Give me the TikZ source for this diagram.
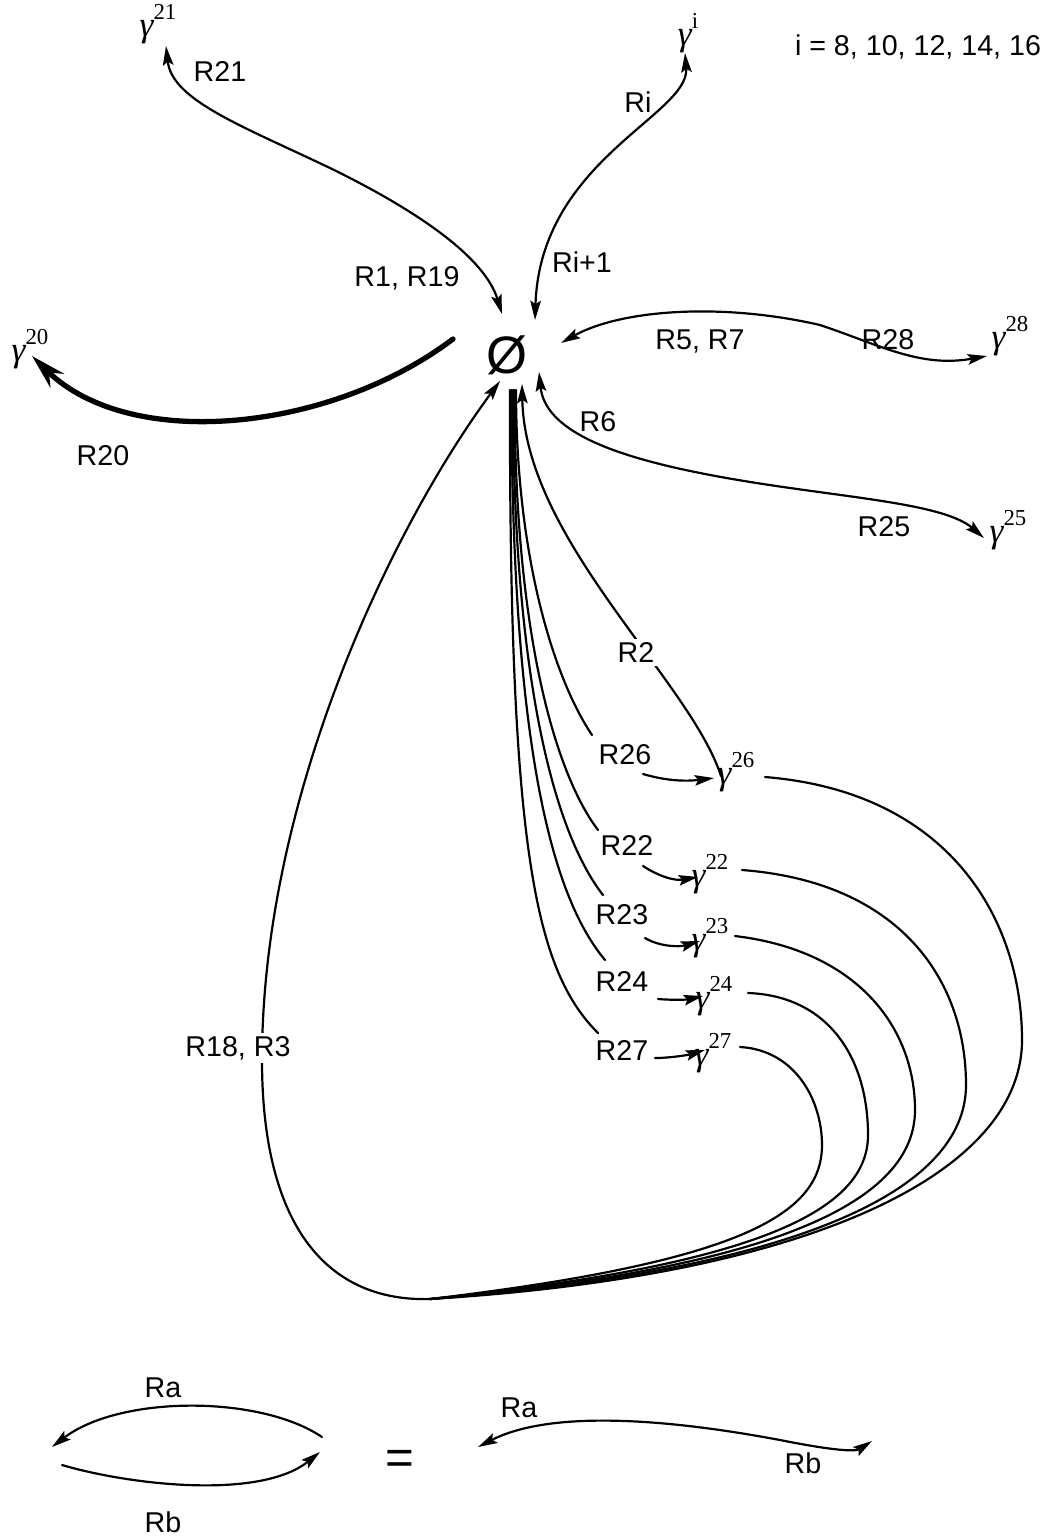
\documentclass[tikz,border=0pt]{standalone}
\usepackage{fontspec}
\setmainfont{Liberation Sans}
\newfontfamily\grfont{Liberation Serif}
\usetikzlibrary{arrows.meta}
\newcommand{\gm}[1]{{\grfont\fontsize{20}{20}\selectfont\itshape γ\upshape\raisebox{1.05ex}{\fontsize{13}{13}\selectfont #1}}}
\begin{document}
\begin{tikzpicture}[x=0.02cm,y=-0.02cm,font=\fontsize{16.3}{19}\selectfont, line join=round, line cap=round, line width=1.25pt, >={Stealth[length=11pt,width=6pt,inset=2pt]},
		thick arrow/.style={line width=3pt,-{Stealth[length=20pt,width=11pt]}},
		gap/.style={fill=white,inner sep=2pt}]
				\useasboundingbox (0,0) rectangle (1054,1536);
				% Nut trung tam va cac gamma
				\node (phi) at (507,355) {\fontsize{30}{30}\selectfont Ø};
				\node (g21) at (158,24) {\gm{21}};
				\node (gi) at (688,33) {\gm{i}};
				\node (g28) at (1010,336) {\gm{28}};
				\node (g25) at (1008,530) {\gm{25}};
				\node (g20) at (30,349) {\gm{20}};
				\node (g26) at (736,772) {\gm{26}};
				\node (g22) at (710,874) {\gm{22}};
				\node (g23) at (710,938) {\gm{23}};
				\node (g24) at (714,996) {\gm{24}};
				\node (g27) at (713,1053) {\gm{27}};
				\node (idx) at (918,47) {i = 8, 10, 12, 14, 16};
				% Diem dau mui ten
				\coordinate (t21) at (166,46);
				\coordinate (p1) at (502,314);
				\coordinate (ti) at (685,53);
				\coordinate (pi) at (535,320);
				\coordinate (t28) at (987,356);
				\coordinate (p5) at (561,343);
				\coordinate (p6) at (539,372);
				\coordinate (t25) at (984,538);
				\coordinate (p20) at (453,339);
				\coordinate (t20) at (32,356);
				\coordinate (p2) at (522,384);
				\coordinate (p18) at (500,381);
				\coordinate (J) at (430,1299);
				% R21 / R1, R19
				\draw[<->] (t21) .. controls (172,100) and (240,125) .. (330,168) .. controls (420,212) and (485,258) .. (p1);
				\node (r21) at (220,71) {R21};
				\node (r1) at (407,278) {R1, R19};
				% Ri / Ri+1
				\draw[<->] (ti) .. controls (690,115) and (540,160) .. (pi);
				\node (ri) at (638,102) {Ri};
				\node (ri1) at (582,262) {Ri+1};
				% R5, R7 / R28
				\draw[<->] (t28) .. controls (920,368) and (880,345) .. (820,325) .. controls (720,302) and (620,310) .. (p5);
				\node (r5) at (700,341) {R5, R7};
				\node (r28) at (888,340) {R28};
				% R6 / R25
				\draw[<->] (p6) .. controls (545,430) and (610,455) .. (700,473) .. controls (820,497) and (940,500) .. (t25);
				\node (r6) at (598,422) {R6};
				\node (r25) at (884,527) {R25};
				% R20
				\draw[thick arrow] (p20) .. controls (330,432) and (130,452) .. (t20);
				\node (r20) at (103,456) {R20};
				% R2
				\draw[<-] (p2) .. controls (525,540) and (690,680) .. (721,776);
				\node[gap] (r2) at (636,652) {R2};
				% bo duong tu nut xuong
				\node (r26) at (625,755) {R26};
				\node (r22) at (627,845) {R22};
				\node (r23) at (622,915) {R23};
				\node (r24) at (622,981) {R24};
				\node (r27) at (622,1050) {R27};
				\draw (510,390) .. controls (509,850) and (535,970) .. (598,1033);
				\draw (511.5,390) .. controls (511.5,760) and (555,900) .. (605,960);
				\draw (513,390) .. controls (513,700) and (560,840) .. (603,895);
				\draw (514.5,390) .. controls (514.5,650) and (560,780) .. (598,830);
				\draw (516,390) .. controls (516,560) and (555,680) .. (592,735);
				\draw[->] (643,774) .. controls (670,782) and (690,781) .. (714,778);
				\draw[->] (643,866) .. controls (660,877) and (675,881) .. (698,877);
				\draw[->] (645,938) .. controls (660,947) and (680,947) .. (700,941);
				\draw[->] (658,999) .. controls (670,1000) and (685,1000) .. (703,996);
				\draw[->] (655,1058) .. controls (670,1058) and (688,1055) .. (705,1050);
				% cung lon ve R18, R3
				\draw (765,777) .. controls (950,792) and (1022,920) .. (1022,1040) .. controls (1022,1170) and (820,1275) .. (J);
				\draw (742,870) .. controls (900,882) and (966,980) .. (966,1085) .. controls (966,1190) and (800,1270) .. (J);
				\draw (735,936) .. controls (860,951) and (915,1030) .. (915,1110) .. controls (915,1200) and (780,1268) .. (J);
				\draw (748,993) .. controls (830,996) and (868,1060) .. (868,1135) .. controls (868,1210) and (760,1265) .. (J);
				\draw (740,1047) .. controls (795,1050) and (822,1100) .. (822,1145) .. controls (822,1215) and (740,1262) .. (J);
				\draw[->] (J) .. controls (330,1302) and (262,1230) .. (262,1060) .. controls (262,800) and (390,530) .. (p18);
				\node[gap] (r18) at (238,1048) {R18, R3};
				% chu thich
				\node (ra1) at (163,1388) {Ra};
				\node (rb1) at (163,1522) {Rb};
				\node (eq) at (400,1462) {\fontsize{28}{28}\selectfont =};
				\node (ra2) at (519,1408) {Ra};
				\node (rb2) at (803,1463) {Rb};
				\draw[->] (322,1437) .. controls (260,1395) and (120,1395) .. (52,1447);
				\draw[->] (62,1465) .. controls (130,1485) and (260,1500) .. (320,1452);
				\draw[<->] (478,1447) .. controls (560,1405) and (700,1425) .. (780,1440) .. controls (830,1450) and (855,1452) .. (872,1441);
			\end{tikzpicture}
\end{document}
